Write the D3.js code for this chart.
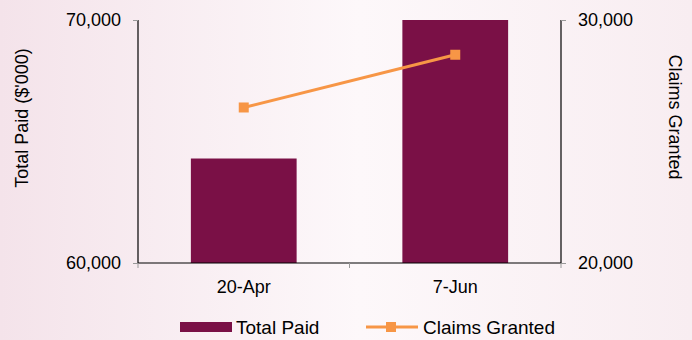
<!DOCTYPE html>
<html>
<head>
<meta charset="utf-8">
<script src="https://cdn.jsdelivr.net/npm/d3@7"></script>
<style>
  html, body { margin: 0; padding: 0; }
  svg { display: block; }
  text { font-family: "Liberation Sans", Arial, sans-serif; fill: #000; }
</style>
</head>
<body>
<svg id="chart" width="692" height="340"></svg>
<script>
// Dates of the two reporting snapshots
const categories = ["20-Apr", "7-Jun"];
// Total paid, in $'000 (left axis)
const totalPaid = [64300, 70000];
// Number of claims granted (right axis)
const claimsGranted = [26400, 28570];
// Axis ticks
const leftTicks = [60000, 70000];
const rightTicks = [20000, 30000];

const W = 692, H = 340;
const plot = { left: 138, right: 561, top: 20, bottom: 263 };
const barColor = "#7a1046";
const lineColor = "#f79646";

const svg = d3.select("#chart");

// Soft pink background wash
const defs = svg.append("defs");
const grad = defs.append("linearGradient").attr("id", "bg")
  .attr("x1", "0").attr("x2", "1").attr("y1", "0").attr("y2", "0");
grad.append("stop").attr("offset", "0%").attr("stop-color", "#f4e3ea");
grad.append("stop").attr("offset", "52%").attr("stop-color", "#fdf8fa");
grad.append("stop").attr("offset", "100%").attr("stop-color", "#f8edf1");
svg.append("rect").attr("width", W).attr("height", H).attr("fill", "url(#bg)");

const x = d3.scaleBand().domain(categories).range([plot.left, plot.right]).padding(0);
const yL = d3.scaleLinear().domain(d3.extent(leftTicks)).range([plot.bottom, plot.top]);
const yR = d3.scaleLinear().domain(d3.extent(rightTicks)).range([plot.bottom, plot.top]);
const fmt = d3.format(",");

// Bars (clipped to the plot area)
defs.append("clipPath").attr("id", "plotClip").append("rect")
  .attr("x", plot.left).attr("y", plot.top)
  .attr("width", plot.right - plot.left).attr("height", plot.bottom - plot.top);

const barW = x.bandwidth() * 0.5;
svg.append("g").attr("clip-path", "url(#plotClip)")
  .selectAll("rect").data(categories).join("rect")
  .attr("x", (d) => x(d) + (x.bandwidth() - barW) / 2)
  .attr("y", (d, i) => yL(totalPaid[i]))
  .attr("width", barW)
  .attr("height", (d, i) => plot.bottom - yL(totalPaid[i]))
  .attr("fill", barColor);

// Left axis
const leftAxis = svg.append("g").attr("transform", `translate(${plot.left},0)`)
  .call(d3.axisLeft(yL).tickValues(leftTicks).tickFormat(fmt).tickSize(5).tickPadding(12));
// Right axis
const rightAxis = svg.append("g").attr("transform", `translate(${plot.right},0)`)
  .call(d3.axisRight(yR).tickValues(rightTicks).tickFormat(fmt).tickSize(5).tickPadding(12));
// Category axis
const xAxis = svg.append("g").attr("transform", `translate(0,${plot.bottom})`)
  .call(d3.axisBottom(x).tickSize(0).tickPadding(17));

[leftAxis, rightAxis, xAxis].forEach((g) => {
  g.select(".domain").attr("stroke", "#000").attr("stroke-width", 1.2);
  g.selectAll(".tick line").attr("stroke", "#999");
  g.selectAll("text").style("font-family", "Liberation Sans, Arial, sans-serif")
    .style("font-size", "18px").attr("fill", "#000");
});
leftAxis.select(".domain").attr("d", `M0,${plot.top}V${plot.bottom}`);
rightAxis.select(".domain").attr("d", `M0,${plot.top}V${plot.bottom}`);
xAxis.select(".domain").attr("d", `M${plot.left},0H${plot.right}`);

// Tick marks between categories and at the axis ends
const sepTicks = [plot.left, x(categories[1]), plot.right];
xAxis.selectAll(".sep").data(sepTicks).join("line").attr("class", "sep")
  .attr("x1", (d) => d).attr("x2", (d) => d)
  .attr("y1", 0).attr("y2", 5).attr("stroke", "#999");

// Axis titles
svg.append("text")
  .attr("transform", `translate(28,118) rotate(-90)`)
  .attr("text-anchor", "middle").style("font-size", "18px")
  .text("Total Paid ($'000)");
svg.append("text")
  .attr("transform", `translate(669,117) rotate(90)`)
  .attr("text-anchor", "middle").style("font-size", "18px")
  .text("Claims Granted");

// Claims line with square markers
const cx = (d) => x(d) + x.bandwidth() / 2;
const line = d3.line().x((d, i) => cx(categories[i])).y((d) => yR(d));
svg.append("path").datum(claimsGranted)
  .attr("d", line).attr("fill", "none")
  .attr("stroke", lineColor).attr("stroke-width", 3);
svg.selectAll(".marker").data(claimsGranted).join("rect").attr("class", "marker")
  .attr("x", (d, i) => cx(categories[i]) - 5)
  .attr("y", (d) => yR(d) - 5)
  .attr("width", 10).attr("height", 10)
  .attr("fill", lineColor);

// Legend
const legend = svg.append("g");
legend.append("rect").attr("x", 180).attr("y", 322).attr("width", 52).attr("height", 10).attr("fill", barColor);
legend.append("text").attr("x", 236).attr("y", 334).style("font-size", "19px").text("Total Paid");
legend.append("line").attr("x1", 366).attr("x2", 418).attr("y1", 327).attr("y2", 327)
  .attr("stroke", lineColor).attr("stroke-width", 3);
legend.append("rect").attr("x", 386).attr("y", 322).attr("width", 10).attr("height", 10).attr("fill", lineColor);
legend.append("text").attr("x", 423).attr("y", 334).style("font-size", "19px").text("Claims Granted");
</script>
</body>
</html>
